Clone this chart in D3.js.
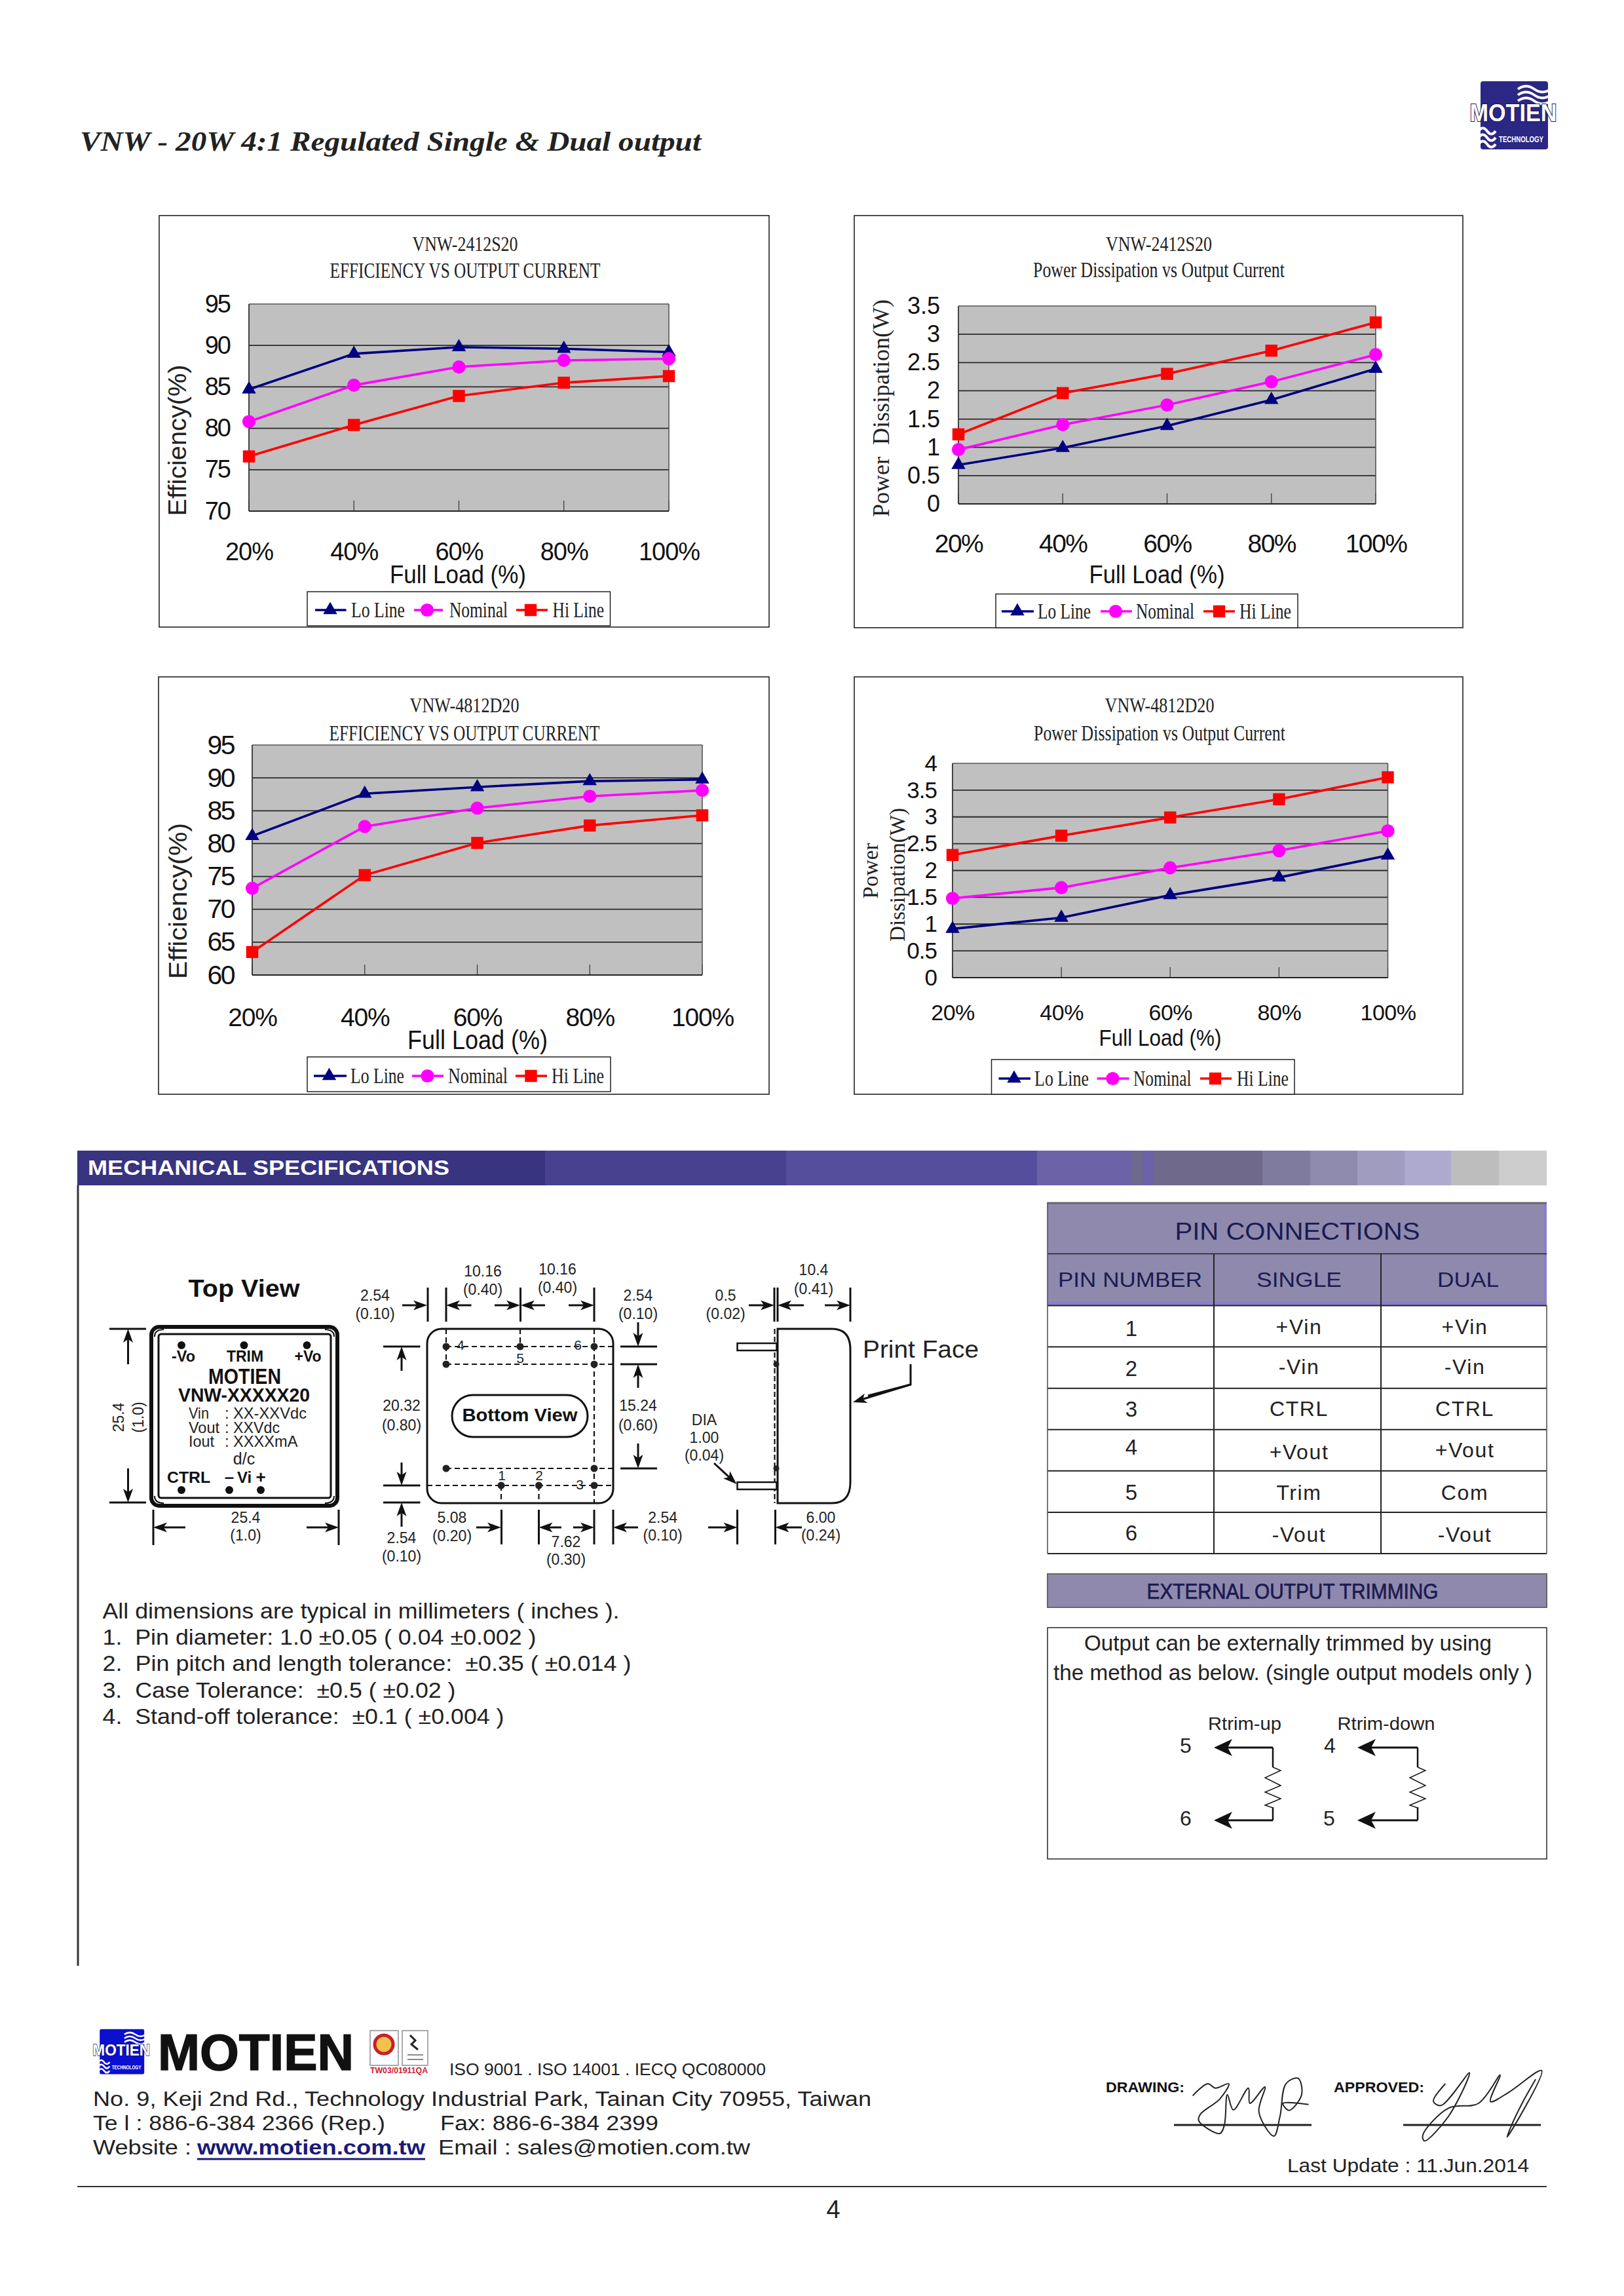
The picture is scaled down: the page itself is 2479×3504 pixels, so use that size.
<!DOCTYPE html>
<html><head><meta charset="utf-8">
<script src="https://cdn.jsdelivr.net/npm/d3@7"></script>
<style>html,body{margin:0;padding:0;background:#fff}svg{display:block}text{white-space:pre}</style>
</head><body><svg id="page" width="2479" height="3504" viewBox="0 0 2479 3504"></svg>
<script>
// ---------- data ----------
const loadCategories = ["20%", "40%", "60%", "80%", "100%"];
const seriesNames = ["Lo Line", "Nominal", "Hi Line"];
const eff2412Lo = [84.7, 89.0, 89.8, 89.6, 89.2];
const eff2412Nom = [80.8, 85.2, 87.4, 88.2, 88.4];
const eff2412Hi = [76.6, 80.4, 83.9, 85.5, 86.3];
const pd2412Lo = [0.69, 0.99, 1.38, 1.84, 2.39];
const pd2412Nom = [0.96, 1.40, 1.75, 2.16, 2.64];
const pd2412Hi = [1.23, 1.96, 2.30, 2.71, 3.21];
const eff4812Lo = [81.15, 87.6, 88.6, 89.5, 89.75];
const eff4812Nom = [73.2, 82.6, 85.4, 87.2, 88.1];
const eff4812Hi = [63.5, 75.2, 80.1, 82.75, 84.3];
const pd4812Lo = [0.91, 1.12, 1.54, 1.87, 2.28];
const pd4812Nom = [1.48, 1.68, 2.05, 2.37, 2.74];
const pd4812Hi = [2.29, 2.65, 2.99, 3.33, 3.74];
const effTicks2412 = [70, 75, 80, 85, 90, 95];
const effTicks4812 = [60, 65, 70, 75, 80, 85, 90, 95];
const pdTicks2412 = [0, 0.5, 1, 1.5, 2, 2.5, 3, 3.5];
const pdTicks4812 = [0, 0.5, 1, 1.5, 2, 2.5, 3, 3.5, 4];
const pinNumbers = ["1", "2", "3", "4", "5", "6"];
const pinSingle = ["+Vin", "-Vin", "CTRL", "+Vout", "Trim", "-Vout"];
const pinDual = ["+Vin", "-Vin", "CTRL", "+Vout", "Com", "-Vout"];
const notes = ["All dimensions are typical in millimeters ( inches ).",
  "1.  Pin diameter: 1.0 ±0.05 ( 0.04 ±0.002 )",
  "2.  Pin pitch and length tolerance:  ±0.35 ( ±0.014 )",
  "3.  Case Tolerance:  ±0.5 ( ±0.02 )",
  "4.  Stand-off tolerance:  ±0.1 ( ±0.004 )"];

// ---------- helpers ----------
const SANS = '"Liberation Sans", Arial, sans-serif', SERIF = '"Liberation Serif", "Times New Roman", serif';
const svg = d3.select("#page");
svg.append("rect").attr("width", 2479).attr("height", 3504).attr("fill", "#fff");

function T(g, s, x, y, o = {}) {
  const e = g.append("text").text(s)
    .attr("font-family", o.family || SANS).attr("font-size", o.size || 22)
    .attr("text-anchor", o.anchor || "start").attr("fill", o.fill || "#111");
  if (o.rot) e.attr("transform", `translate(${x},${y}) rotate(${o.rot})`);
  else e.attr("x", x).attr("y", y);
  if (o.weight) e.attr("font-weight", o.weight);
  if (o.italic) e.attr("font-style", "italic");
  if (o.ls) e.attr("letter-spacing", o.ls);
  if (o.len) e.attr("textLength", o.len).attr("lengthAdjust", "spacingAndGlyphs");
  if (o.stroke) e.attr("stroke", o.stroke).attr("stroke-width", o.sw || 1).attr("paint-order", "stroke");
  return e;
}
function L(g, x1, y1, x2, y2, w = 3, c = "#111", dash) {
  const e = g.append("line").attr("x1", x1).attr("y1", y1).attr("x2", x2).attr("y2", y2)
    .attr("stroke", c).attr("stroke-width", w);
  if (dash) e.attr("stroke-dasharray", dash);
  return e;
}
function arrow(g, x1, y1, x2, y2, o = {}) {
  const len = o.len || 21, wid = o.wid || 15, w = o.w || 3;
  const a = Math.atan2(y2 - y1, x2 - x1), ca = Math.cos(a), sa = Math.sin(a);
  L(g, x1, y1, x2 - ca * len * 0.6, y2 - sa * len * 0.6, w);
  const bx = x2 - ca * len, by = y2 - sa * len;
  g.append("path").attr("fill", "#111")
    .attr("d", `M${x2},${y2}L${bx - sa * wid / 2},${by + ca * wid / 2}L${bx + ca * len * .25},${by + sa * len * .25}L${bx + sa * wid / 2},${by - ca * wid / 2}Z`);
}
function dim(g, s1, s2, x, y1, y2, size = 23) {
  T(g, s1, x, y1, {size, anchor: "middle", fill: "#222"});
  T(g, s2, x, y2, {size, anchor: "middle", fill: "#222"});
}
function logo(g, tx, ty, k, fill) {
  const l = g.append("g").attr("transform", `translate(${tx},${ty}) scale(${k})`);
  l.append("rect").attr("x", 17).attr("y", 24).attr("width", 103).attr("height", 104).attr("rx", 4).attr("fill", fill);
  const wave = (x, y, w) => `M${x},${y} q${w * .25},-9 ${w * .5},0 t${w * .5},0`;
  [[74, 36], [74, 45], [74, 54]].forEach(p => l.append("path").attr("d", wave(p[0], p[1], 50)).attr("fill", "none").attr("stroke", "#fff").attr("stroke-width", 4));
  [[14, 100], [14, 110], [14, 120]].forEach(p => l.append("path").attr("d", wave(p[0], p[1], 26)).attr("fill", "none").attr("stroke", "#fff").attr("stroke-width", 4));
  T(l, "MOTIEN", 67, 85, {size: 37, anchor: "middle", weight: "bold", fill: "#fff", stroke: "#1a1a55", sw: 2, len: 133});
  T(l, "TECHNOLOGY", 79, 117, {size: 12.5, anchor: "middle", weight: "bold", fill: "#fff", len: 68});
}

// ---------- page head ----------
T(svg, "VNW - 20W 4:1 Regulated Single & Dual output", 122, 230,
  {size: 42, family: SERIF, weight: "bold", italic: true, fill: "#222", len: 948});
logo(svg, 2243, 100, 1, "#2b2785");

// ---------- charts ----------
const chartDefs = [
  {series: [eff2412Lo, eff2412Nom, eff2412Hi], dom: [70, 95], ticks: effTicks2412,
   frame: [243, 329, 1174, 957], plot: [380, 464, 1021, 780],
   title: ["VNW-2412S20", "EFFICIENCY VS OUTPUT CURRENT"], tcx: 710, tb: [383, 424], tw: [161, 413],
   xb: 855, xs: 38, xl: -1, ys: 38, yl: -2, yr: 351, xt: [699, 890, 208], xts: 38,
   yt: [{s: "Efficiency(%)", x: 284, cy: 672, len: 231, family: SANS, size: 38}],
   box: [469, 903, 931.5, 955], lb: 942,
   leg: [[481, 528.5, 504, 536, 82], [632, 676, 652, 686, 89], [788, 836, 810, 843.5, 78.5]]},
  {series: [pd2412Lo, pd2412Nom, pd2412Hi], dom: [0, 3.5], ticks: pdTicks2412,
   frame: [1304, 329, 2233, 958], plot: [1463, 467, 2100, 769],
   title: ["VNW-2412S20", "Power Dissipation vs Output Current"], tcx: 1769, tb: [383, 423], tw: [162, 384],
   xb: 843, xs: 39, xl: -1.5, ys: 36, yl: 0, yr: 1435, xt: [1766, 890, 207], xts: 38,
   yt: [{s: "Power  Dissipation(W)", x: 1357, cy: 623, len: 332, family: SERIF, size: 36}],
   box: [1520, 906.5, 1981, 958], lb: 944,
   leg: [[1529, 1578, 1553, 1584, 81], [1680, 1728, 1703, 1734, 89], [1837, 1885, 1861, 1892, 79]]},
  {series: [eff4812Lo, eff4812Nom, eff4812Hi], dom: [60, 95], ticks: effTicks4812,
   frame: [242, 1033, 1174, 1670], plot: [385, 1137, 1072, 1488],
   title: ["VNW-4812D20", "EFFICIENCY VS OUTPUT CURRENT"], tcx: 709, tb: [1087, 1130], tw: [167, 413],
   xb: 1566, xs: 39, xl: -1.2, ys: 41, yl: -2.5, yr: 357, xt: [729, 1601, 214], xts: 41,
   yt: [{s: "Efficiency(%)", x: 285, cy: 1375, len: 238, family: SANS, size: 38}],
   box: [469, 1613, 932, 1666], lb: 1653,
   leg: [[479, 529, 502.5, 535, 82], [629, 677, 652.5, 684, 91], [787, 835, 810.5, 842, 80]]},
  {series: [pd4812Lo, pd4812Nom, pd4812Hi], dom: [0, 4], ticks: pdTicks4812,
   frame: [1304, 1033, 2233, 1670], plot: [1454, 1165, 2118.5, 1492],
   title: ["VNW-4812D20", "Power Dissipation vs Output Current"], tcx: 1770, tb: [1087, 1130], tw: [167, 384],
   xb: 1557, xs: 34, xl: -0.5, ys: 35, yl: -1, yr: 1430, xt: [1771, 1596, 187], xts: 35,
   yt: [{s: "Power", x: 1340, cy: 1329, len: 85, family: SERIF, size: 34},
        {s: "Dissipation(W)", x: 1381, cy: 1335, len: 204, family: SERIF, size: 34}],
   box: [1513.5, 1617, 1976, 1670], lb: 1657,
   leg: [[1524.5, 1573, 1548, 1579, 83], [1674.6, 1723.6, 1698.5, 1730, 88.5], [1832, 1880, 1855, 1888, 79]]}
];
const colors = ["#000080", "#ff00ff", "#ff0000"];
const markerPaths = [
  d3.symbol().type(d3.symbolTriangle).size(200),
  d3.symbol().type(d3.symbolCircle).size(320),
  d3.symbol().type(d3.symbolSquare).size(340)
];
chartDefs.forEach(c => {
  const g = svg.append("g");
  const [fx0, fy0, fx1, fy1] = c.frame, [px0, py0, px1, py1] = c.plot;
  g.append("rect").attr("x", fx0).attr("y", fy0).attr("width", fx1 - fx0).attr("height", fy1 - fy0)
    .attr("fill", "#fff").attr("stroke", "#222").attr("stroke-width", 1.6);
  const x = d3.scalePoint().domain(loadCategories).range([px0, px1]).padding(0);
  const y = d3.scaleLinear().domain(c.dom).range([py1, py0]);
  g.append("rect").attr("x", px0).attr("y", py0).attr("width", px1 - px0).attr("height", py1 - py0).attr("fill", "#c0c0c0");
  g.append("g").selectAll("line").data(c.ticks).join("line")
    .attr("x1", px0).attr("x2", px1).attr("y1", d => y(d)).attr("y2", d => y(d))
    .attr("stroke", d => d === c.dom[1] ? "#777" : "#2a2a2a").attr("stroke-width", 1.8);
  const ya = d3.axisLeft(y).tickValues(c.ticks).tickSize(0).tickPadding(0).tickFormat(d => String(d));
  const ag = g.append("g").attr("transform", `translate(${c.yr},0)`).call(ya);
  ag.select(".domain").remove();
  ag.selectAll("text").attr("font-family", SANS).attr("font-size", c.ys).attr("fill", "#111").attr("letter-spacing", c.yl);
  const xa = d3.axisBottom(x).tickSize(0).tickPadding(0);
  const xg = g.append("g").attr("transform", `translate(0,${c.xb - c.xs * 0.72})`).call(xa);
  xg.select(".domain").remove();
  xg.selectAll("text").attr("font-family", SANS).attr("font-size", c.xs).attr("fill", "#111").attr("dy", "0.72em").attr("letter-spacing", c.xl);
  g.append("g").selectAll("line").data(loadCategories).join("line")
    .attr("x1", d => x(d)).attr("x2", d => x(d)).attr("y1", py1 - 16).attr("y2", py1)
    .attr("stroke", "#333").attr("stroke-width", 1.2);
  L(g, px0, py0, px0, py1, 1.8, "#333");
  L(g, px1, py0, px1, py1, 1.6, "#555");
  L(g, px0, py1, px1, py1, 2, "#222");
  const line = d3.line().x((d, i) => x(loadCategories[i])).y(d => y(d));
  c.series.forEach((s, si) => {
    g.append("path").attr("d", line(s)).attr("fill", "none").attr("stroke", colors[si]).attr("stroke-width", 3.6);
    g.append("g").selectAll("path").data(s).join("path")
      .attr("d", markerPaths[si]).attr("fill", colors[si])
      .attr("transform", (d, i) => `translate(${x(loadCategories[i])},${y(d)})`);
  });
  T(g, c.title[0], c.tcx, c.tb[0], {family: SERIF, size: 31, anchor: "middle", len: c.tw[0], fill: "#222"});
  T(g, c.title[1], c.tcx, c.tb[1], {family: SERIF, size: 33, anchor: "middle", len: c.tw[1], fill: "#222"});
  T(g, "Full Load (%)", c.xt[0], c.xt[1], {size: c.xts, anchor: "middle", len: c.xt[2]});
  c.yt.forEach(t => T(g, t.s, t.x, t.cy, {family: t.family, size: t.size, anchor: "middle", rot: -90, len: t.len, fill: "#222"}));
  const [bx0, by0, bx1, by1] = c.box;
  g.append("rect").attr("x", bx0).attr("y", by0).attr("width", bx1 - bx0).attr("height", by1 - by0)
    .attr("fill", "#fff").attr("stroke", "#222").attr("stroke-width", 1.5);
  c.leg.forEach((l, i) => {
    L(g, l[0], c.lb - 11, l[1], c.lb - 11, 3.6, colors[i]);
    g.append("path").attr("d", markerPaths[i]).attr("fill", colors[i]).attr("transform", `translate(${l[2]},${c.lb - 11})`);
    T(g, seriesNames[i], l[3], c.lb, {family: SERIF, size: 34, len: l[4], fill: "#222"});
  });
});

// ---------- section bar ----------
const barStops = [[118, 832, "#38347f"], [832, 1200, "#47418f"], [1200, 1583, "#554e9c"], [1583, 1728, "#6c62a8"],
  [1728, 1744, "#6e6a8e"], [1744, 1761, "#6c62a8"], [1761, 1927, "#6f6a8c"], [1927, 2000, "#7f7b9f"], [2000, 2072, "#8f8bae"],
  [2072, 2144, "#a09cc0"], [2144, 2215, "#aeaacf"], [2215, 2288, "#bdbdbd"], [2288, 2361, "#cccccc"]];
svg.append("g").selectAll("rect").data(barStops).join("rect")
  .attr("x", d => d[0]).attr("y", 1756).attr("width", d => d[1] - d[0]).attr("height", 53).attr("fill", d => d[2]);
T(svg, "MECHANICAL SPECIFICATIONS", 134, 1793, {size: 31, weight: "bold", fill: "#fff", len: 552});
L(svg, 119, 1809, 119, 3000, 3, "#333");

// ---------- top view ----------
const m = svg.append("g").attr("class", "mech");
T(m, "Top View", 372.5, 1979, {size: 36, weight: "bold", anchor: "middle", len: 170});
m.append("rect").attr("x", 231).attr("y", 2025).attr("width", 284).attr("height", 273).attr("rx", 12).attr("fill", "#fff").attr("stroke", "#111").attr("stroke-width", 6);
m.append("path").attr("d", "M236,2040 Q236,2029 250,2029 M510,2040 Q510,2029 496,2029 M236,2283 Q236,2294 250,2294 M510,2283 Q510,2294 496,2294").attr("fill", "none").attr("stroke", "#111").attr("stroke-width", 2);
m.append("rect").attr("x", 242).attr("y", 2036).attr("width", 263).attr("height", 250).attr("rx", 4).attr("fill", "#fff").attr("stroke", "#111").attr("stroke-width", 3);
[[277, 2053], [372.5, 2053], [468.5, 2053], [277, 2274], [350, 2274], [398, 2274]].forEach(p =>
  m.append("circle").attr("cx", p[0]).attr("cy", p[1]).attr("r", 6).attr("fill", "#111"));
T(m, "-Vo", 280, 2078, {size: 24, weight: "bold", anchor: "middle", len: 36});
T(m, "TRIM", 374, 2078, {size: 24, weight: "bold", anchor: "middle", len: 56});
T(m, "+Vo", 470, 2078, {size: 24, weight: "bold", anchor: "middle", len: 41});
T(m, "MOTIEN", 373.5, 2112, {size: 33, weight: "bold", anchor: "middle", len: 111});
T(m, "VNW-XXXXX20", 372.5, 2139, {size: 29, weight: "bold", anchor: "middle", len: 201});
[["Vin", "XX-XXVdc", 2165, 112, 31], ["Vout", "XXVdc", 2187, 71, 47], ["Iout", "XXXXmA", 2208, 98.5, 39]].forEach(r => {
  T(m, r[0], 288, r[2], {size: 24, fill: "#222", len: r[4]});
  T(m, ":", 343, r[2], {size: 24, fill: "#222"});
  T(m, r[1], 356, r[2], {size: 24, fill: "#222", len: r[3]});
});
T(m, "d/c", 372.5, 2235, {size: 25, anchor: "middle", fill: "#222"});
T(m, "CTRL", 255, 2263, {size: 24, weight: "bold", len: 66});
T(m, "–", 350, 2263, {size: 26, weight: "bold", anchor: "middle"});
T(m, "Vi", 373, 2263, {size: 24, weight: "bold", anchor: "middle"});
T(m, "+", 398, 2263, {size: 26, weight: "bold", anchor: "middle"});
L(m, 167, 2028, 223, 2028); L(m, 167, 2293, 223, 2293);
arrow(m, 195.5, 2082, 195.5, 2028); arrow(m, 195.5, 2241, 195.5, 2293);
T(m, "25.4", 189, 2163, {size: 23, anchor: "middle", rot: -90, fill: "#222"});
T(m, "(1.0)", 219, 2163, {size: 23, anchor: "middle", rot: -90, fill: "#222"});
L(m, 234, 2304, 234, 2358); L(m, 517, 2304, 517, 2358);
arrow(m, 283, 2331, 234, 2331); arrow(m, 468, 2331, 517, 2331);
dim(m, "25.4", "(1.0)", 375, 2324, 2351);

// ---------- bottom view ----------
m.append("rect").attr("x", 652).attr("y", 2028).attr("width", 284).attr("height", 266).attr("rx", 22).attr("fill", "#fff").attr("stroke", "#111").attr("stroke-width", 3);
const dash = "8 5";
L(m, 681, 2055, 936, 2055, 2.2, "#111", dash); L(m, 681, 2082, 936, 2082, 2.2, "#111", dash);
L(m, 681, 2241, 936, 2241, 2.2, "#111", dash); L(m, 652, 2267, 936, 2267, 2.2, "#111", dash);
L(m, 907, 2028, 907, 2294, 2.2, "#111", dash); L(m, 794, 2028, 794, 2055, 2.2, "#111", dash);
L(m, 681, 2028, 681, 2082, 2.2, "#111", dash); L(m, 765, 2267, 765, 2294, 2.2, "#111", dash); L(m, 822.5, 2267, 822.5, 2294, 2.2, "#111", dash);
[[681, 2055], [794, 2055], [907, 2055], [681, 2082], [907, 2082], [681, 2241], [907, 2241], [765, 2267], [822.5, 2267], [907, 2267]].forEach(p =>
  m.append("circle").attr("cx", p[0]).attr("cy", p[1]).attr("r", 5.5).attr("fill", "#222"));
[["4", 703, 2060], ["6", 882, 2060], ["5", 794, 2080], ["1", 766, 2259], ["2", 823, 2259], ["3", 885, 2273]].forEach(p =>
  T(m, p[0], p[1], p[2], {size: 21, anchor: "middle", fill: "#222"}));
m.append("rect").attr("x", 690).attr("y", 2129).attr("width", 207).attr("height", 64).attr("rx", 32).attr("fill", "#fff").attr("stroke", "#111").attr("stroke-width", 3);
T(m, "Bottom View", 793.5, 2169, {size: 27, weight: "bold", anchor: "middle", len: 176});
[653, 681, 794.5, 907].forEach(xv => L(m, xv, 1965, xv, 2017));
arrow(m, 614, 1992, 652, 1992); arrow(m, 719.5, 1992, 681, 1992); arrow(m, 755, 1992, 794, 1992);
arrow(m, 832, 1992, 795, 1992); arrow(m, 868, 1992, 907, 1992);
dim(m, "2.54", "(0.10)", 572.5, 1985, 2013);
dim(m, "10.16", "(0.40)", 737, 1948, 1976); dim(m, "10.16", "(0.40)", 851, 1945, 1973);
dim(m, "2.54", "(0.10)", 974, 1985, 2013);
[2055, 2267, 2293].forEach(yv => L(m, 585, yv, 641.5, yv));
arrow(m, 613, 2092, 613, 2055); arrow(m, 613, 2232, 613, 2267); arrow(m, 613, 2330, 613, 2293);
dim(m, "20.32", "(0.80)", 613, 2153, 2183); dim(m, "2.54", "(0.10)", 613, 2355, 2383);
[2055, 2082, 2241].forEach(yv => L(m, 947, yv, 1003, yv));
arrow(m, 974, 2018, 974, 2055); arrow(m, 974, 2118, 974, 2082); arrow(m, 974, 2203, 974, 2241);
dim(m, "15.24", "(0.60)", 974, 2153, 2183);
[765.5, 822.5, 907, 936, 1125.5, 1183.5].forEach(xv => L(m, xv, 2304, xv, 2357));
arrow(m, 727, 2331, 765, 2331); arrow(m, 857, 2331, 822.5, 2331); arrow(m, 875, 2331, 907, 2331);
arrow(m, 974, 2331, 936, 2331); arrow(m, 1081, 2331, 1125.5, 2331); arrow(m, 1224, 2331, 1183.5, 2331);
dim(m, "5.08", "(0.20)", 690, 2324, 2352); dim(m, "7.62", "(0.30)", 864, 2361, 2388);
dim(m, "2.54", "(0.10)", 1011.6, 2324, 2351); dim(m, "6.00", "(0.24)", 1253, 2324, 2351);

// ---------- side view ----------
m.append("path").attr("d", "M1187,2028 H1270 Q1298,2028 1298,2060 V2262 Q1298,2294 1270,2294 H1187 Z").attr("fill", "#fff").attr("stroke", "#111").attr("stroke-width", 3);
L(m, 1182.5, 2028, 1182.5, 2294, 2.2, "#111", "8 4");
m.append("rect").attr("x", 1125.5).attr("y", 2050).attr("width", 60).attr("height", 11).attr("fill", "#fff").attr("stroke", "#111").attr("stroke-width", 2.5);
m.append("rect").attr("x", 1125.5).attr("y", 2262).attr("width", 60).attr("height", 11).attr("fill", "#fff").attr("stroke", "#111").attr("stroke-width", 2.5);
[2082, 2241].forEach(yv => m.append("circle").attr("cx", 1185).attr("cy", yv).attr("r", 4.5).attr("fill", "#222"));
[1182, 1187, 1298].forEach(xv => L(m, xv, 1965, xv, 2017));
arrow(m, 1143, 1992, 1182, 1992); arrow(m, 1227, 1992, 1187, 1992); arrow(m, 1259, 1992, 1298, 1992);
dim(m, "0.5", "(0.02)", 1107.6, 1985, 2013); dim(m, "10.4", "(0.41)", 1242, 1946, 1975);
T(m, "Print Face", 1317, 2072, {size: 36, len: 177, fill: "#222"});
m.append("path").attr("d", "M1390,2082 V2113 L1325,2130").attr("fill", "none").attr("stroke", "#111").attr("stroke-width", 3);
arrow(m, 1390, 2113, 1302, 2140);
T(m, "DIA", 1075, 2175, {size: 23, anchor: "middle", fill: "#222"});
T(m, "1.00", 1075, 2202, {size: 23, anchor: "middle", fill: "#222"});
T(m, "(0.04)", 1075, 2229, {size: 23, anchor: "middle", fill: "#222"});
arrow(m, 1090, 2233, 1124.5, 2265);

// ---------- notes ----------
const noteLen = [789, 662, 807, 539, 613];
notes.forEach((n, i) => T(svg, n, 156.5, 2470 + i * 40.2, {size: 33, len: noteLen[i], fill: "#222"}));

// ---------- pin table ----------
const tb = svg.append("g");
const HEAD = "#8f89ae", HTEXT = "#1b1b50";
tb.append("rect").attr("x", 1599).attr("y", 1835).attr("width", 762).attr("height", 157.5).attr("fill", HEAD);
tb.append("rect").attr("x", 1599).attr("y", 1986).attr("width", 762).attr("height", 7).attr("fill", "#8a7fc8");
tb.append("rect").attr("x", 2357).attr("y", 1838).attr("width", 4).attr("height", 154).attr("fill", "#8a7fc8");
L(tb, 1599, 1836, 2361, 1836, 3, "#666");
const rowY = d3.scalePoint().domain(d3.range(7)).range([1992.5, 2371]);
d3.range(7).forEach(i => L(tb, 1599, rowY(i), 2361, rowY(i), 2, "#222"));
L(tb, 1599, 1913.5, 2361, 1913.5, 1.6, "#222");
L(tb, 1599, 1835, 1599, 2371, 1.6, "#555"); L(tb, 2361, 1992, 2361, 2371, 1.6, "#555");
L(tb, 1853, 1913.5, 1853, 2371, 2, "#222"); L(tb, 2108, 1913.5, 2108, 2371, 2, "#222");
T(tb, "PIN CONNECTIONS", 1980.5, 1891.5, {size: 37, anchor: "middle", fill: HTEXT, len: 374});
T(tb, "PIN NUMBER", 1725, 1964, {size: 32, anchor: "middle", fill: HTEXT, len: 220});
T(tb, "SINGLE", 1983, 1964, {size: 32, anchor: "middle", fill: HTEXT, len: 130});
T(tb, "DUAL", 2241, 1964, {size: 32, anchor: "middle", fill: HTEXT, len: 94});
const pinBase = [2039, 2100, 2162, 2220, 2289, 2351];
const singleBase = [2036, 2097, 2161, 2227, 2289, 2353];
const dualBase = [2036, 2097, 2161, 2224, 2289, 2353];
pinNumbers.forEach((p, i) => {
  T(tb, p, 1727, pinBase[i], {size: 33, anchor: "middle", fill: "#222"});
  T(tb, pinSingle[i], 1983, singleBase[i], {size: 32, anchor: "middle", fill: "#222", ls: 1.6});
  T(tb, pinDual[i], 2236, dualBase[i], {size: 32, anchor: "middle", fill: "#222", ls: 1.6});
});
tb.append("rect").attr("x", 1599).attr("y", 2402).attr("width", 762).attr("height", 51).attr("fill", HEAD).attr("stroke", "#666").attr("stroke-width", 2);
T(tb, "EXTERNAL OUTPUT TRIMMING", 1973, 2440, {size: 33, anchor: "middle", fill: HTEXT, len: 445, stroke: HTEXT, sw: 0.7});

// ---------- trimming box ----------
const tr = svg.append("g");
tr.append("rect").attr("x", 1599).attr("y", 2484).attr("width", 762).attr("height", 353).attr("fill", "#fff").attr("stroke", "#333").attr("stroke-width", 1.6);
T(tr, "Output can be externally trimmed by using", 1966, 2519, {size: 33, anchor: "middle", len: 622, fill: "#222"});
T(tr, "the method as below. (single output models only )", 1608, 2564, {size: 33, len: 731, fill: "#222"});
T(tr, "Rtrim-up", 1900, 2640, {size: 28, anchor: "middle", len: 112, fill: "#222"});
T(tr, "Rtrim-down", 2116, 2640, {size: 28, anchor: "middle", len: 149, fill: "#222"});
[["5", 1810, 2675], ["6", 1810, 2786], ["4", 2030, 2675], ["5", 2029, 2786]].forEach(p => T(tr, p[0], p[1], p[2], {size: 32, anchor: "middle", fill: "#222"}));
[[1943, 1853], [2164, 2072]].forEach(c => {
  const xr = c[0], xt = c[1], a = 12;
  arrow(tr, xr, 2667, xt, 2667, {len: 28, wid: 26, w: 3});
  arrow(tr, xr, 2778, xt, 2778, {len: 28, wid: 26, w: 3});
  L(tr, xr, 2667, xr, 2697, 2.5); L(tr, xr, 2758, xr, 2778, 2.5);
  const zz = [[0, 2697], [a, 2702], [-a, 2713], [a, 2725], [-a, 2735], [a, 2745], [-a, 2755], [0, 2759]];
  tr.append("path").attr("d", d3.line().x(d => xr + d[0]).y(d => d[1])(zz)).attr("fill", "none").attr("stroke", "#111").attr("stroke-width", 1.4);
});

// ---------- footer ----------
const ft = svg.append("g");
logo(ft, 141, 3081, 0.66, "#0a0fd0");
T(ft, "MOTIEN", 241, 3159, {size: 77, weight: "bold", len: 299, stroke: "#111", sw: 1.5});
ft.append("rect").attr("x", 565).attr("y", 3099).attr("width", 43).attr("height", 53).attr("fill", "#fff").attr("stroke", "#aaa").attr("stroke-width", 2);
ft.append("rect").attr("x", 614).attr("y", 3099).attr("width", 39).attr("height", 53).attr("fill", "#fff").attr("stroke", "#aaa").attr("stroke-width", 2);
ft.append("circle").attr("cx", 586).attr("cy", 3120).attr("r", 14).attr("fill", "#f2c24a").attr("stroke", "#c8202a").attr("stroke-width", 5);
ft.append("path").attr("d", "M626,3106 l8,8 -6,6 10,8").attr("fill", "none").attr("stroke", "#222").attr("stroke-width", 3);
L(ft, 622, 3136, 646, 3136, 2, "#888"); L(ft, 622, 3143, 646, 3143, 2, "#888");
T(ft, "TW03/01911QA", 609, 3164, {size: 13, weight: "bold", anchor: "middle", fill: "#d02030", len: 88});
T(ft, "ISO 9001 . ISO 14001 . IECQ QC080000", 686, 3167, {size: 25, len: 483, fill: "#222"});
T(ft, "No. 9, Keji 2nd Rd., Technology Industrial Park, Tainan City 70955, Taiwan", 142, 3214, {size: 31, len: 1188, fill: "#222"});
T(ft, "Te l : 886-6-384 2366 (Rep.)", 142, 3251, {size: 31, len: 446, fill: "#222"});
T(ft, "Fax: 886-6-384 2399", 672, 3251, {size: 31, len: 333, fill: "#222"});
T(ft, "Website :", 142, 3288, {size: 31, len: 150, fill: "#222"});
T(ft, "www.motien.com.tw", 301, 3288, {size: 31, weight: "bold", fill: "#1a1a78", len: 348});
L(ft, 301, 3295, 649, 3295, 3, "#1a1a78");
T(ft, "Email : sales@motien.com.tw", 669, 3288, {size: 31, len: 476, fill: "#222"});
L(ft, 118, 3337, 2361, 3337, 2, "#333");
T(ft, "4", 1272, 3385, {size: 38, anchor: "middle", fill: "#222"});
T(ft, "DRAWING:", 1688, 3193, {size: 22, weight: "bold", len: 120});
T(ft, "APPROVED:", 2036, 3193, {size: 22, weight: "bold", len: 138});
L(ft, 1792, 3243, 2002, 3243, 3, "#222"); L(ft, 2142, 3243, 2352, 3243, 3, "#222");
T(ft, "Last Update : 11.Jun.2014", 1965, 3315, {size: 29, len: 369, fill: "#222"});
const sigA = [[350,205],[400,150],[425,170],[470,150],[440,220],[375,290],[370,320],[440,378],[455,340],[465,200],[485,270],[535,170],[540,240],[590,165],[570,280],[620,390],[640,300],[660,150],[700,125],[712,200],[670,272],[650,240],[735,245]];
const sigB = [[1190,150],[1150,230],[1175,250],[1270,100],[1200,300],[1120,412],[1115,385],[1200,262],[1300,240],[1372,110],[1340,232],[1400,190],[1510,90],[1395,395],[1410,340],[1445,240],[1490,130]];
const zx = d3.scaleLinear().domain([0, 720 * 2.178]).range([1660, 2380]);
const zy = d3.scaleLinear().domain([0, 750]).range([3130, 3380]);
const sigLine = d3.line().x(d => zx(d[0])).y(d => zy(d[1])).curve(d3.curveCatmullRom.alpha(0.5));
[sigA, sigB].forEach(s => ft.append("path").attr("d", sigLine(s)).attr("fill", "none").attr("stroke", "#222").attr("stroke-width", 2));
</script></body></html>
